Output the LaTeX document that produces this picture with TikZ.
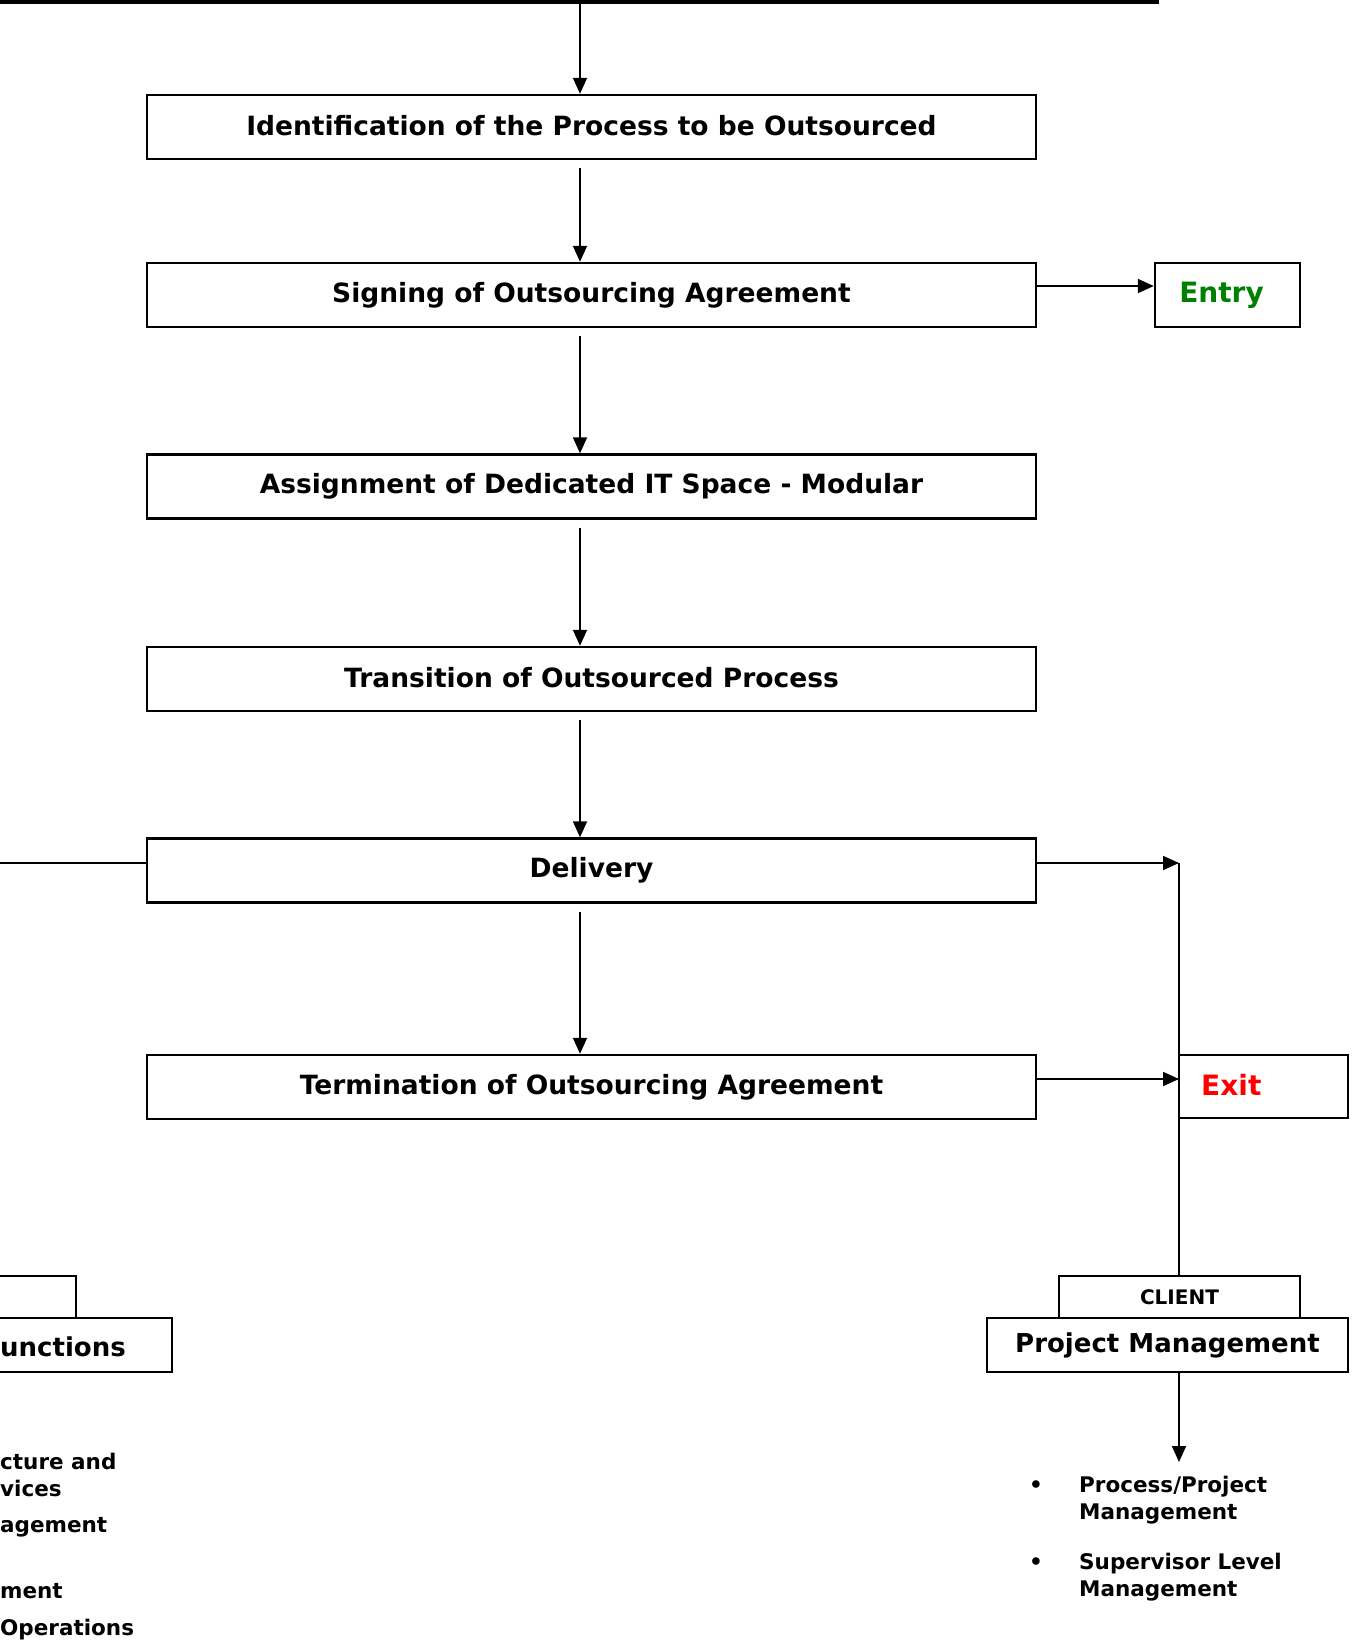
\documentclass[tikz,border=0pt]{standalone}
\usepackage{fontspec}
\setmainfont{DejaVu Sans}
\usetikzlibrary{arrows.meta}
\definecolor{entrygreen}{RGB}{0,128,0}
\definecolor{exitred}{RGB}{255,0,0}
\begin{document}
\begin{tikzpicture}[x=1pt,y=-1pt,
  stagebox/.style={draw,line width=2.4pt,minimum width=889pt,minimum height=64pt,inner sep=0pt,font=\fontsize{26.5}{30}\selectfont\bfseries},
  plainbox/.style={draw,line width=2.4pt,inner sep=0pt},
  arr/.style={line width=1.8pt,-{Triangle[length=16pt,width=14pt]}},
  ln/.style={line width=1.8pt},
  bul/.style={font=\fontsize{21.5}{27}\selectfont\bfseries,inner sep=0pt,align=left}
]
\useasboundingbox (0,0) rectangle (1355,1649);
\clip (0,0) rectangle (1355,1649);
% top line
\coordinate (tl) at (0,2);
\coordinate (tr) at (1159,2);
\draw[line width=4pt] (tl) -- (tr);
\coordinate (ax) at (580,0);
\coordinate (rx) at (1179,0);
% stages
\node[stagebox] (b1) at (591.5,127) {\raisebox{3pt}{Identification of the Process to be Outsourced}};
\node[stagebox] (b2) at (591.5,295) {\raisebox{3pt}{Signing of Outsourcing Agreement}};
\node[stagebox] (b3) at (591.5,486.5) {\raisebox{3pt}{Assignment of Dedicated IT Space - Modular}};
\node[stagebox] (b4) at (591.5,679) {\raisebox{3pt}{Transition of Outsourced Process}};
\node[stagebox] (b5) at (591.5,870.5) {\raisebox{3pt}{Delivery}};
\node[stagebox] (b6) at (591.5,1087) {\raisebox{3pt}{Termination of Outsourcing Agreement}};
% entry / exit
\node[plainbox,minimum width=145pt,minimum height=64pt,text=entrygreen,font=\fontsize{28}{32}\selectfont\bfseries] (entry) at (1227.5,295) {\hspace{-12pt}Entry};
\node[plainbox,minimum width=169pt,minimum height=63pt] (exit) at (1263.5,1086.5) {};
\node[anchor=west,inner sep=0pt,text=exitred,font=\fontsize{28}{32}\selectfont\bfseries] (exittxt) at (1201,1085) {Exit};
% client
\node[plainbox,minimum width=241pt,minimum height=42pt,font=\fontsize{20}{24}\selectfont\bfseries] (client) at (1179.5,1297) {\raisebox{-5pt}{CLIENT}};
\node[plainbox,minimum width=361pt,minimum height=54pt,font=\fontsize{26}{30}\selectfont\bfseries] (pm) at (1167.5,1345) {\raisebox{-3pt}{Project Management}};
% left partial boxes
\node[plainbox,minimum width=276pt,minimum height=42pt] (lclient) at (-62,1297) {};
\node[plainbox,minimum width=472pt,minimum height=54pt] (lpm) at (-64,1345) {};
\node[anchor=base west,inner sep=0pt,font=\fontsize{26}{30}\selectfont\bfseries] (lpmtxt) at (0,1356) {unctions};
% vertical arrows
\draw[arr] (tl -| ax) -- (b1.north -| ax);
\draw[arr] ([yshift=-8pt]b1.south -| ax) -- (b2.north -| ax);
\draw[arr] ([yshift=-8pt]b2.south -| ax) -- (b3.north -| ax);
\draw[arr] ([yshift=-8pt]b3.south -| ax) -- (b4.north -| ax);
\draw[arr] ([yshift=-8pt]b4.south -| ax) -- (b5.north -| ax);
\draw[arr] ([yshift=-8pt]b5.south -| ax) -- (b6.north -| ax);
% entry arrow
\draw[arr] ([yshift=9pt]b2.east) -- ([yshift=9pt]entry.west);
% delivery / termination to right
\coordinate (dv) at (1179,863);
\coordinate (tm) at (1179,1079);
\coordinate (dl) at (0,863);
\draw[arr] (b5.east |- dv) -- (dv);
\draw[arr] (b6.east |- tm) -- (tm);
\draw[ln] (dv) -- (client.north -| rx);
\draw[ln] (dl) -- (b5.west |- dl);
% PM arrow
\coordinate (pmend) at (1179,1462);
\draw[arr] (pm.south -| rx) -- (pmend);
% right bullets
\node[bul] (rb1) at (1036,1487) {•};
\node[bul] (rb2) at (1036,1564) {•};
\node[bul,anchor=north west] (rt1) at (1079,1476) {Process/Project\\Management};
\node[bul,anchor=north west] (rt2) at (1079,1553) {Supervisor Level\\Management};
% left fragments
\node[bul,anchor=west] (l1) at (0,1461) {cture and};
\node[bul,anchor=west] (l2) at (0,1488) {vices};
\node[bul,anchor=west] (l3) at (0,1527) {agement};
\node[bul,anchor=west] (l4) at (0,1591) {ment};
\node[bul,anchor=west] (l5) at (0,1630) {Operations};
\end{tikzpicture}
\end{document}
